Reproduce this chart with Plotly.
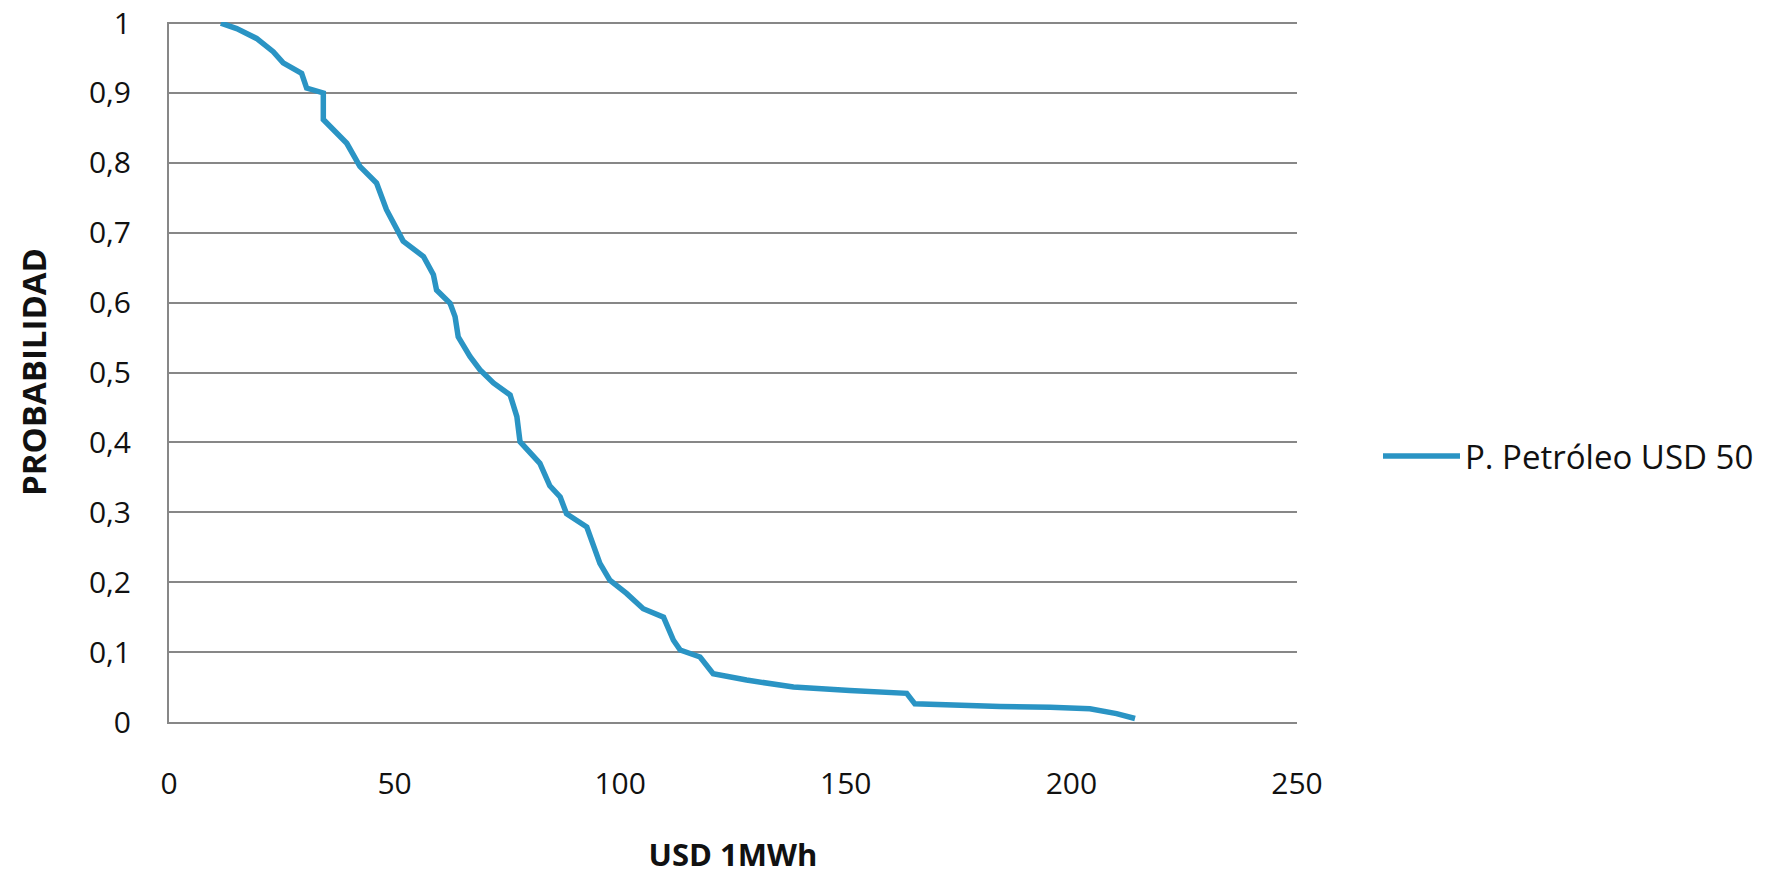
import plotly.graph_objects as go

# Exceedance curve: price (USD/MWh) vs. probability
precio = [11.5, 15.0, 19.4, 23.1, 25.3, 29.4, 30.5, 34.2, 34.2, 39.4, 42.3, 46.0,
          48.2, 51.9, 56.4, 58.6, 59.3, 62.3, 63.4, 64.1, 66.7, 68.9, 71.9, 75.6,
          77.1, 77.8, 82.2, 84.4, 86.7, 88.1, 92.6, 94.1, 95.5, 97.7, 101.4, 105.1,
          109.6, 111.8, 113.3, 117.7, 120.6, 128.0, 138.4, 150.9, 163.5, 165.3,
          173.1, 184.2, 195.3, 204.1, 210.0, 214.1]
probabilidad = [1.0, 0.992, 0.978, 0.959, 0.943, 0.928, 0.907, 0.900, 0.862, 0.828,
                0.795, 0.771, 0.733, 0.688, 0.666, 0.640, 0.618, 0.599, 0.580, 0.551,
                0.523, 0.504, 0.485, 0.468, 0.437, 0.401, 0.370, 0.338, 0.322, 0.298,
                0.279, 0.251, 0.227, 0.203, 0.184, 0.162, 0.150, 0.117, 0.103, 0.093,
                0.069, 0.060, 0.050, 0.045, 0.041, 0.026, 0.024, 0.022, 0.021, 0.019,
                0.012, 0.005]

serie_nombre = "P. Petróleo USD 50"
x_ticks = [0, 50, 100, 150, 200, 250]
y_ticks = [0, 0.1, 0.2, 0.3, 0.4, 0.5, 0.6, 0.7, 0.8, 0.9, 1]
y_ticktext = ["0", "0,1", "0,2", "0,3", "0,4", "0,5", "0,6", "0,7", "0,8", "0,9", "1"]

FONT = "Open Sans"
GRID = "#878787"
LINE = "#2a94c4"
TEXT = "#111111"

fig = go.Figure()
fig.add_trace(go.Scatter(
    x=precio, y=probabilidad, mode="lines", name=serie_nombre,
    line=dict(color=LINE, width=5.5, shape="linear"),
))

fig.update_layout(
    width=1778, height=875,
    paper_bgcolor="white", plot_bgcolor="white",
    margin=dict(l=169, r=481, t=22, b=153, autoexpand=False),
    font=dict(family=FONT, size=30, color=TEXT),
    showlegend=True,
    legend=dict(
        xref="container", yref="container",
        x=1378 / 1778, y=1 - 456 / 875, xanchor="left", yanchor="middle",
        font=dict(family=FONT, size=33, color=TEXT),
        bgcolor="rgba(0,0,0,0)", itemwidth=77,
    ),
    xaxis=dict(
        range=[0, 250], tickvals=x_ticks, showgrid=False, zeroline=False,
        showline=True, linecolor=GRID, linewidth=2, ticks="",
        automargin=False, ticklabelstandoff=34,
        tickfont=dict(family=FONT, size=30, color=TEXT),
        title=dict(text="<b>USD 1MWh</b>", standoff=44,
                   font=dict(family=FONT, size=31, color=TEXT)),
    ),
    yaxis=dict(
        range=[0, 1.0015], tickvals=y_ticks, ticktext=y_ticktext,
        showgrid=True, gridcolor=GRID, gridwidth=2, zeroline=False,
        showline=True, linecolor=GRID, linewidth=2, ticks="",
        automargin=False, ticklabelstandoff=30,
        tickfont=dict(family=FONT, size=30, color=TEXT),
        title=dict(text="<b>PROBABILIDAD</b>", standoff=32,
                   font=dict(family=FONT, size=33, color=TEXT)),
    ),
)

fig.write_html("out.html")
